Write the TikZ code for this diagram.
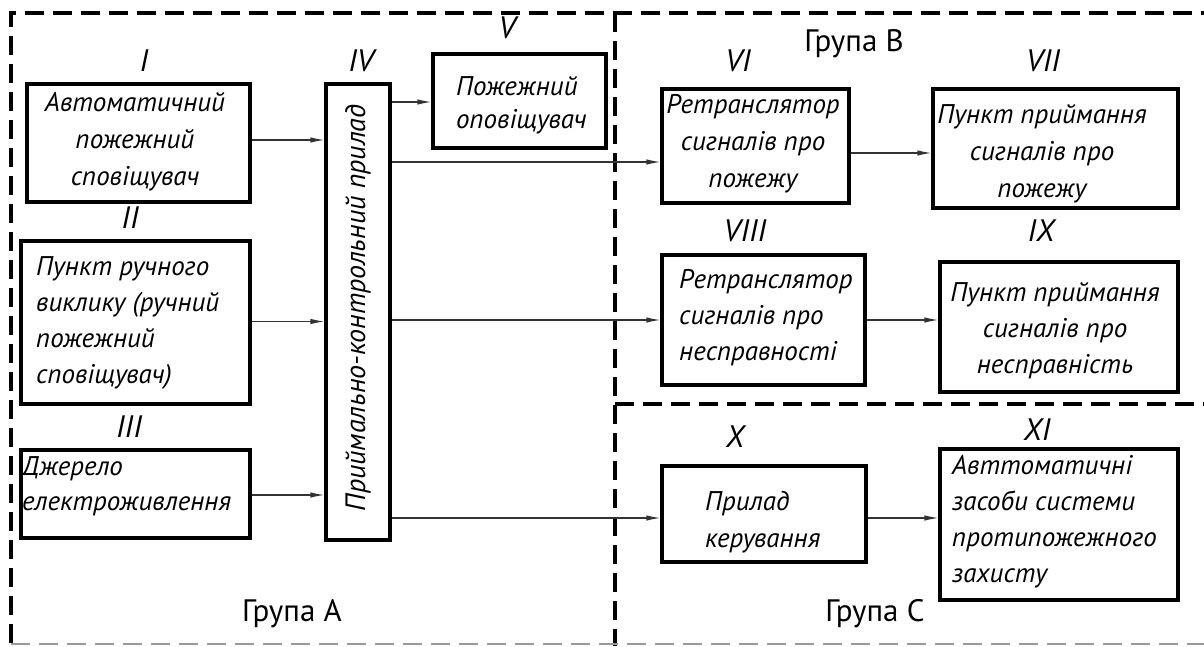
\documentclass[tikz,border=0pt]{standalone}
\usepackage{fontspec}
\setmainfont{PT Sans}
\usetikzlibrary{arrows.meta}
\begin{document}
\begin{tikzpicture}[x=1pt,y=-1pt,
  box/.style={draw, line width=3.2pt, rectangle, inner sep=0pt},
  txt/.style={font=\fontsize{27}{37}\selectfont\itshape, inner sep=0pt},
  num/.style={font=\fontsize{31}{31}\selectfont\itshape, inner sep=0pt},
  grp/.style={font=\fontsize{31}{31}\selectfont, inner sep=0pt},
  conn/.style={line width=1.2pt, draw=black!80, -{Latex[length=14pt,width=5.5pt]}},
  frameline/.style={line width=3.2pt, dash pattern=on 19pt off 9pt}
]
\useasboundingbox (0,0) rectangle (1204,646);

% dashed group frames
\draw[frameline] (11,643) -- (11,13) -- (1204,13);
\draw[frameline] (615,13) -- (615,646);
\draw[frameline] (615,404) -- (1204,404);
\draw[frameline, draw=black!40, line width=2pt] (11,644) -- (1204,644);

% boxes
\node[box, minimum width=223pt, minimum height=118pt] (I)    at (138.5,143) {};
\node[box, minimum width=229pt, minimum height=163pt] (II)   at (135.5,322.5) {};
\node[box, minimum width=229pt, minimum height=88pt]  (III)  at (135.5,494) {};
\node[box, minimum width=64pt,  minimum height=456pt] (IV)   at (358,312) {};
\node[box, minimum width=173pt, minimum height=94pt]  (V)    at (519.5,101) {};
\node[box, minimum width=187pt, minimum height=114pt] (VI)   at (755.5,146) {};
\node[box, minimum width=245pt, minimum height=119pt] (VII)  at (1055.5,148.5) {};
\node[box, minimum width=203pt, minimum height=130pt] (VIII) at (763.5,320) {};
\node[box, minimum width=238pt, minimum height=130pt] (IX)   at (1059,327) {};
\node[box, minimum width=204pt, minimum height=96pt]  (X)    at (764,514) {};
\node[box, minimum width=238pt, minimum height=151pt] (XI)   at (1059,524.5) {};

% box texts (base anchor = baseline of the last line)
\node[txt, align=center, anchor=base] (tI) at (135,185) {Автоматичний\\пожежний\\сповіщувач};
\node[txt, align=left, anchor=base west, font=\fontsize{27}{36}\selectfont\itshape] (tII) at (36,383) {Пункт ручного\\виклику (ручний\\пожежний\\сповіщувач)};
\node[txt, align=left, anchor=base west, font=\fontsize{27}{35}\selectfont\itshape] (tIII) at (22,510) {Джерело\\електроживлення};
\node[txt, rotate=90, anchor=center, font=\fontsize{28}{28}\selectfont\itshape] (tIV) at (358,308) {Приймально-контрольний прилад};
\node[txt, align=left, anchor=base west, font=\fontsize{27}{33}\selectfont\itshape] (tV) at (456,128) {Пожежний\\оповіщувач};
\node[txt, align=center, anchor=base] (tVI) at (753,187) {Ретранслятор\\сигналів про\\пожежу};
\node[txt, align=center, anchor=base] (tVII) at (1042,197) {Пункт приймання\\сигналів про\\пожежу};
\node[txt, align=left, anchor=base west, font=\fontsize{27}{36}\selectfont\itshape] (tVIII) at (679,360) {Ретранслятор\\сигналів про\\несправності};
\node[txt, align=center, anchor=base, font=\fontsize{27}{36}\selectfont\itshape] (tIX) at (1055,373) {Пункт приймання\\сигналів про\\несправність};
\node[txt, align=left, anchor=base west] (tX) at (705,547) {Прилад\\керування};
\node[txt, align=left, anchor=base west, font=\fontsize{27}{36}\selectfont\itshape] (tXI) at (952,582) {Авттоматичні\\засоби системи\\протипожежного\\захисту};

% roman numerals
\node[num] (nI)    at (144,61)  {I};
\node[num] (nII)   at (130,218) {II};
\node[num] (nIII)  at (129,427) {III};
\node[num] (nIV)   at (361,61)  {IV};
\node[num] (nV)    at (507,28)  {V};
\node[num] (nVI)   at (738,61)  {VI};
\node[num] (nVII)  at (1043,61) {VII};
\node[num] (nVIII) at (745,231) {VIII};
\node[num] (nIX)   at (1041,231) {IX};
\node[num] (nX)    at (735,437) {X};
\node[num] (nXI)   at (1037,430) {XI};

% group labels
\node[grp] (gA) at (292,614) {Група A};
\node[grp] (gB) at (854,44)  {Група B};
\node[grp] (gC) at (875,614) {Група C};

% connectors
\draw[conn] ([yshift=3pt]I.east) -- ([yshift=3pt]I.east -| IV.west);
\draw[conn] ([yshift=1pt]II.east) -- ([yshift=1pt]II.east -| IV.west);
\draw[conn] ([yshift=-1pt]III.east) -- ([yshift=-1pt]III.east -| IV.west);
\draw[conn] ([yshift=-1pt]V.west -| IV.east) -- ([yshift=-1pt]V.west);
\draw[conn] ([yshift=-16pt]VI.west -| IV.east) -- ([yshift=-16pt]VI.west);
\draw[conn] (VIII.west -| IV.east) -- (VIII.west);
\draw[conn] ([yshift=-4pt]X.west -| IV.east) -- ([yshift=-4pt]X.west);
\draw[conn] ([yshift=-7pt]VI.east) -- ([yshift=-7pt]VI.east -| VII.west);
\draw[conn] (VIII.east) -- (VIII.east -| IX.west);
\draw[conn] ([yshift=-4pt]X.east) -- ([yshift=-4pt]X.east -| XI.west);
\end{tikzpicture}
\end{document}
